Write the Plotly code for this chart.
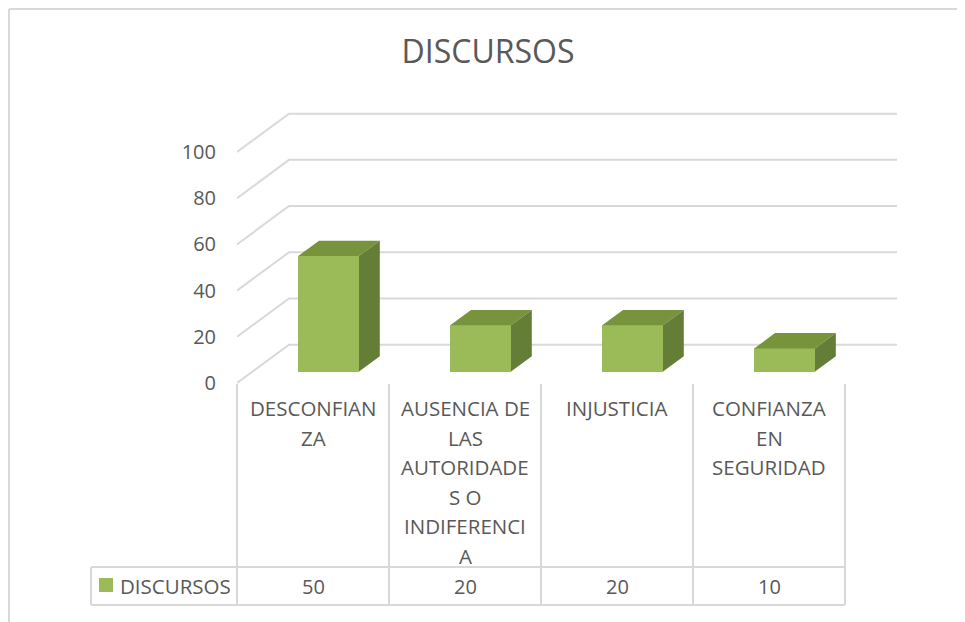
import plotly.graph_objects as go

# ---------------- data ----------------
chart_title = "DISCURSOS"
series_name = "DISCURSOS"
categories = ["DESCONFIANZA",
              "AUSENCIA DE LAS AUTORIDADES O INDIFERENCIA",
              "INJUSTICIA",
              "CONFIANZA EN SEGURIDAD"]
# category labels as wrapped in the data table
category_lines = [["DESCONFIAN", "ZA"],
                  ["AUSENCIA DE", "LAS", "AUTORIDADE", "S O", "INDIFERENCI", "A"],
                  ["INJUSTICIA"],
                  ["CONFIANZA", "EN", "SEGURIDAD"]]
values = [50, 20, 20, 10]
y_ticks = [0, 20, 40, 60, 80, 100]

# ---------------- geometry / style ----------------
OFF = 8                     # page body margin
W, H = 965 - OFF, 622 - OFF
L_PAGE, T_PAGE = 237, 100
PW, PH = 673, 300
L, T = L_PAGE - OFF, T_PAGE - OFF
R, B = W - L - PW, H - T - PH
PX_PER_CAT = 152.0
X_RANGE = [-0.5, -0.5 + PW / PX_PER_CAT]
PX_PER_UNIT = 2.31
ZERO_PX = 383.0
Y_RANGE = [-(T_PAGE + PH - ZERO_PX) / PX_PER_UNIT, (ZERO_PX - T_PAGE) / PX_PER_UNIT]

DEPTH_X = 52.0 / PX_PER_CAT      # depth offset in category units
DEPTH_Y = 16.6                   # depth offset in value units
BAR_FRONT, BAR_BACK = 0.3, 0.7   # bar position inside the depth
BAR_W = 0.4

GRID = "#D9D9D9"
TXT = "#595959"
FRONT_C = "#9BBB59"
TOP_C = "#77933C"
SIDE_C = "#647D37"
FONT = "Open Sans"


def px_x(px):
    return (px - L_PAGE) / PW


def px_y(py):
    return (T_PAGE + PH - py) / PH


def data_x_to_px(xv):
    return L_PAGE + (xv - X_RANGE[0]) / (X_RANGE[1] - X_RANGE[0]) * PW


fig = go.Figure()
shapes = []
annotations = []

# gridlines: diagonal on the side floor + horizontal on the back wall (below bars)
n = len(categories)
for v in y_ticks:
    x_pts = [X_RANGE[0], X_RANGE[0] + DEPTH_X, X_RANGE[0] + n + DEPTH_X]
    y_pts = [v, v + DEPTH_Y, v + DEPTH_Y]
    path = "M {} {} L {} {} L {} {}".format(x_pts[0], y_pts[0], x_pts[1], y_pts[1],
                                            x_pts[2], y_pts[2])
    shapes.append(dict(type="path", xref="x", yref="y", path=path, layer="below",
                       line=dict(color=GRID, width=2)))

# front faces
base = BAR_FRONT * DEPTH_Y
bar_x = [i + BAR_FRONT * DEPTH_X for i in range(n)]
fig.add_trace(go.Bar(x=bar_x, y=values, base=base, width=BAR_W,
                     marker=dict(color=FRONT_C, line=dict(width=0)),
                     name=series_name, showlegend=False))

# top and side faces
ddx = (BAR_BACK - BAR_FRONT) * DEPTH_X
ddy = (BAR_BACK - BAR_FRONT) * DEPTH_Y
for xc, v in zip(bar_x, values):
    xl, xr = xc - BAR_W / 2, xc + BAR_W / 2
    top = base + v
    fig.add_trace(go.Scatter(x=[xl, xr, xr + ddx, xl + ddx, xl],
                             y=[top, top, top + ddy, top + ddy, top],
                             mode="lines", fill="toself", fillcolor=TOP_C,
                             line=dict(width=0, color=TOP_C),
                             hoverinfo="skip", showlegend=False))
    fig.add_trace(go.Scatter(x=[xr, xr, xr + ddx, xr + ddx, xr],
                             y=[base, top, top + ddy, base + ddy, base],
                             mode="lines", fill="toself", fillcolor=SIDE_C,
                             line=dict(width=0, color=SIDE_C),
                             hoverinfo="skip", showlegend=False))

# chart border (left and top visible)
shapes.append(dict(type="line", xref="paper", yref="paper",
                   x0=px_x(9), y0=px_y(9), x1=px_x(9), y1=px_y(640),
                   line=dict(color=GRID, width=2)))
shapes.append(dict(type="line", xref="paper", yref="paper",
                   x0=px_x(9), y0=px_y(9), x1=px_x(990), y1=px_y(9),
                   line=dict(color=GRID, width=2)))

# data table
TABLE_TOP, ROW_TOP, ROW_BOT, LEG_LEFT = 384, 567, 605, 91
for k in range(n + 1):
    xp = data_x_to_px(k - 0.5)
    shapes.append(dict(type="line", xref="paper", yref="paper",
                       x0=px_x(xp), x1=px_x(xp), y0=px_y(TABLE_TOP), y1=px_y(ROW_BOT),
                       line=dict(color=GRID, width=2)))
right_px = data_x_to_px(n - 0.5)
for yy in (ROW_TOP, ROW_BOT):
    shapes.append(dict(type="line", xref="paper", yref="paper",
                       x0=px_x(LEG_LEFT), x1=px_x(right_px), y0=px_y(yy), y1=px_y(yy),
                       line=dict(color=GRID, width=2)))
shapes.append(dict(type="line", xref="paper", yref="paper",
                   x0=px_x(LEG_LEFT), x1=px_x(LEG_LEFT), y0=px_y(ROW_TOP), y1=px_y(ROW_BOT),
                   line=dict(color=GRID, width=2)))

# legend key
shapes.append(dict(type="rect", xref="paper", yref="paper",
                   x0=px_x(99), x1=px_x(113), y0=px_y(578), y1=px_y(592),
                   fillcolor=FRONT_C, line=dict(width=0)))
annotations.append(dict(text=series_name, xref="paper", yref="paper",
                        x=px_x(118), y=px_y(586), xanchor="left", yanchor="middle",
                        showarrow=False, font=dict(size=20.5, color=TXT, family=FONT)))

# category labels, line by line
LINE_H = 29.5
FIRST_LINE = 408
for i, lines in enumerate(category_lines):
    for j, t in enumerate(lines):
        annotations.append(dict(text=t, xref="x", yref="paper",
                                x=i, y=px_y(FIRST_LINE + j * LINE_H),
                                xanchor="center", yanchor="middle", showarrow=False,
                                font=dict(size=20.5, color=TXT, family=FONT)))
# values row
for i, v in enumerate(values):
    annotations.append(dict(text=str(v), xref="x", yref="paper",
                            x=i, y=px_y(586), xanchor="center", yanchor="middle",
                            showarrow=False, font=dict(size=20, color=TXT, family=FONT)))

fig.update_layout(
    width=W, height=H,
    margin=dict(l=L, r=R, t=T, b=B),
    paper_bgcolor="white", plot_bgcolor="white",
    title=dict(text=chart_title, x=(488 - OFF) / W, xref="container", xanchor="center",
               y=1 - (52 - OFF) / H, yref="container", yanchor="middle",
               font=dict(size=32, color=TXT, family=FONT)),
    xaxis=dict(range=X_RANGE, visible=False, fixedrange=True),
    yaxis=dict(range=Y_RANGE, tickvals=y_ticks, showgrid=False, zeroline=False,
               showline=False, ticks="", ticklabelstandoff=20,
               tickfont=dict(size=20, color=TXT, family=FONT), fixedrange=True),
    shapes=shapes, annotations=annotations,
    showlegend=False, bargap=0,
)

fig.write_html("out.html")
